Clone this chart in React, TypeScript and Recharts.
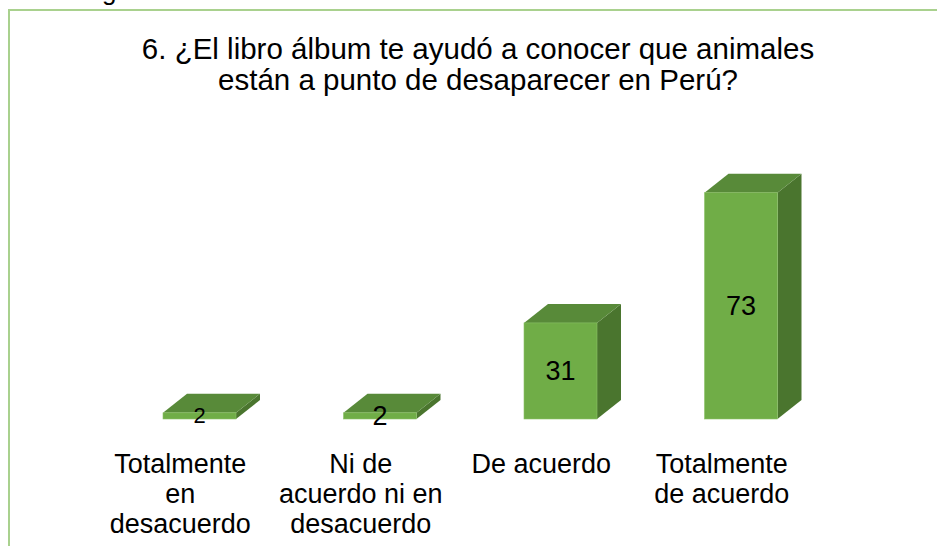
import React from 'react';
import { BarChart, Bar, XAxis, YAxis, LabelList } from 'recharts';

const categories = [
  'Totalmente en desacuerdo',
  'Ni de acuerdo ni en desacuerdo',
  'De acuerdo',
  'Totalmente de acuerdo',
];
const categoryLines = [
  ['Totalmente', 'en', 'desacuerdo'],
  ['Ni de', 'acuerdo ni en', 'desacuerdo'],
  ['De acuerdo'],
  ['Totalmente', 'de acuerdo'],
];
const values = [2, 2, 31, 73];
const titleLines = [
  '6. ¿El libro álbum te ayudó a conocer que animales',
  'están a punto de desaparecer en Perú?',
];
const cutOffText = 'g';

const data = categories.map((name, i) => ({ name, value: values[i] }));

const FONT = '"Liberation Sans", Arial, sans-serif';
const FRONT = '#70AD47';
const TOP = '#588A39';
const SIDE = '#4A752E';
const DX = 24;
const DY = 19;

const Box3D = (props: any) => {
  const { x, y, width, height } = props;
  const w = width;
  const h = height;
  return (
    <g>
      <polygon
        points={`${x + w},${y} ${x + w + DX},${y - DY} ${x + w + DX},${y + h - DY} ${x + w},${y + h}`}
        fill={SIDE}
      />
      <polygon
        points={`${x},${y} ${x + DX},${y - DY} ${x + w + DX},${y - DY} ${x + w},${y}`}
        fill={TOP}
      />
      <rect x={x} y={y} width={w} height={h} fill={FRONT} stroke="#8CC168" strokeWidth={0.6} />
    </g>
  );
};

const ValueLabel = (props: any) => {
  const { x, y, width, height, value, index } = props;
  return (
    <text
      x={x + width / 2}
      y={y + height / 2}
      textAnchor="middle"
      dominantBaseline="central"
      fontFamily={FONT}
      fontSize={index === 0 ? 22 : 27}
      fill="#000"
    >
      {value}
    </text>
  );
};

const CategoryTick = (props: any) => {
  const { x, y, payload } = props;
  const idx = categories.indexOf(payload.value);
  const lines = categoryLines[idx] || [String(payload.value)];
  return (
    <text x={x - 19} y={y + 54} textAnchor="middle" fontFamily={FONT} fontSize={27} fill="#000">
      {lines.map((l, i) => (
        <tspan key={i} x={x - 19} dy={i === 0 ? 0 : 30}>
          {l}
        </tspan>
      ))}
    </text>
  );
};

export default function App() {
  return (
    <div>
      <div
        style={{
          position: 'absolute',
          left: 102,
          top: -22,
          fontFamily: FONT,
          fontSize: 26,
          lineHeight: '26px',
          color: '#000',
        }}
      >
        {cutOffText}
      </div>
      <div
        style={{
          position: 'relative',
          width: 935,
          height: 535,
          marginTop: 1,
          borderTop: '2px solid #A9D18E',
          borderLeft: '2px solid #A9D18E',
          overflow: 'hidden',
          background: '#fff',
        }}
      >
        <BarChart
          width={935}
          height={535}
          data={data}
          margin={{ top: 160, right: 114, bottom: 0, left: 99 }}
        >
          <XAxis
            dataKey="name"
            height={127}
            axisLine={false}
            tickLine={false}
            tickSize={0}
            tickMargin={0}
            interval={0}
            tick={<CategoryTick />}
          />
          <YAxis hide domain={[0, 80]} />
          <Bar dataKey="value" barSize={73} shape={<Box3D />} isAnimationActive={false}>
            <LabelList dataKey="value" content={<ValueLabel />} />
          </Bar>
        </BarChart>
        <svg
          width={935}
          height={535}
          style={{ position: 'absolute', left: 0, top: 0, pointerEvents: 'none' }}
        >
          {titleLines.map((t, i) => (
            <text
              key={i}
              x={468}
              y={48 + i * 31}
              textAnchor="middle"
              fontFamily={FONT}
              fontSize={29.5}
              fill="#000"
            >
              {t}
            </text>
          ))}
        </svg>
      </div>
    </div>
  );
}
